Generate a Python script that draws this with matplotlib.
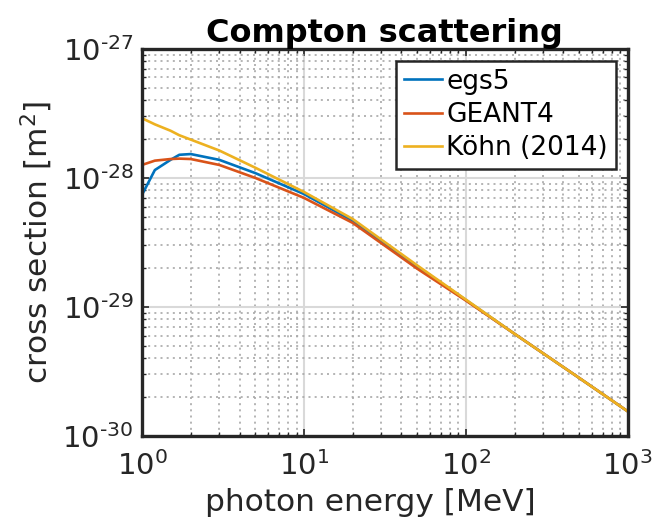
import numpy as np
import matplotlib
matplotlib.use("Agg")
import matplotlib.pyplot as plt
from matplotlib import rcParams
from matplotlib.ticker import LogLocator, NullFormatter

rcParams.update({'font.family': 'DejaVu Sans', 'font.size': 21,
                 'mathtext.default': 'regular', 'axes.unicode_minus': False})

# photon energy [MeV]
energy = [1, 1.2, 1.5, 1.7, 2, 3, 5, 10, 20, 50, 100, 200, 500, 1000]

# cross sections [m^2]
egs5 = [7.4e-29, 1.15e-28, 1.38e-28, 1.51e-28, 1.53e-28, 1.38e-28, 1.09e-28,
        7.5e-29, 4.65e-29, 2.06e-29, 1.13e-29, 6.18e-30, 2.82e-30, 1.55e-30]
geant4 = [1.26e-28, 1.36e-28, 1.40e-28, 1.41e-28, 1.40e-28, 1.26e-28, 1.0e-28,
          7.0e-29, 4.48e-29, 1.98e-29, 1.12e-29, 6.18e-30, 2.82e-30, 1.55e-30]
kohn = [2.9e-28, 2.6e-28, 2.32e-28, 2.14e-28, 1.98e-28, 1.63e-28, 1.2e-28,
        7.78e-29, 4.8e-29, 2.1e-29, 1.14e-29, 6.18e-30, 2.82e-30, 1.55e-30]

xticks = [1, 10, 100, 1000]
xticklabels = ['10$^{0}$', '10$^{1}$', '10$^{2}$', '10$^{3}$']
yticks = [1e-30, 1e-29, 1e-28, 1e-27]
yticklabels = ['10$^{\\text{-30}}$', '10$^{\\text{-29}}$',
               '10$^{\\text{-28}}$', '10$^{\\text{-27}}$']

fig = plt.figure(figsize=(6.56, 5.31), dpi=100)
ax = fig.add_axes([0.2165, 0.179, 0.7405, 0.729])

ax.loglog(energy, egs5, color='#0072BD', lw=1.9, label='egs5')
ax.loglog(energy, geant4, color='#D95319', lw=1.9, label='GEANT4')
ax.loglog(energy, kohn, color='#EDB120', lw=1.9, label='Köhn (2014)')

ax.set_xlim(1, 1000)
ax.set_ylim(1e-30, 1e-27)
ax.set_xticks(xticks)
ax.set_xticklabels(xticklabels)
ax.set_yticks(yticks)
ax.set_yticklabels(yticklabels)
ax.xaxis.set_minor_locator(LogLocator(base=10, subs=np.arange(2, 10)))
ax.yaxis.set_minor_locator(LogLocator(base=10, subs=np.arange(2, 10)))
ax.xaxis.set_minor_formatter(NullFormatter())
ax.yaxis.set_minor_formatter(NullFormatter())

ax.grid(True, which='major', color='#d9d9d9', lw=1.5, ls='-')
ax.grid(True, which='minor', color='#a8a8a8', lw=1.2, ls=(0, (1.2, 2.5)))
ax.set_axisbelow(True)

ax.tick_params(which='both', direction='in', top=True, right=True,
               colors='#262626', labelcolor='#262626')
ax.tick_params(which='major', length=5, width=1.2, labelsize=21)
ax.tick_params(axis='x', which='major', pad=11)
ax.tick_params(axis='y', which='major', pad=6)
ax.tick_params(which='minor', length=3, width=1.0)
for s in ax.spines.values():
    s.set_linewidth(2.4)
    s.set_color('#262626')

ax.set_xlabel('photon energy [MeV]', fontsize=22.5, color='#262626')
ax.xaxis.set_label_coords(0.47, -0.135)
ax.set_ylabel('cross section [m$^{2}$]', fontsize=22.5, color='#262626')
ax.yaxis.set_label_coords(-0.18, 0.5)
ax.set_title('Compton scattering', fontsize=23, fontweight='bold', pad=5)

leg = ax.legend(loc='upper right', fontsize=19, handlelength=1.45,
                handletextpad=0.15, borderpad=0.3, labelspacing=0.28,
                fancybox=False, framealpha=1, borderaxespad=0.45)
leg.get_frame().set_edgecolor('#262626')
leg.get_frame().set_linewidth(1.8)

fig.savefig('out.png', dpi=100)
